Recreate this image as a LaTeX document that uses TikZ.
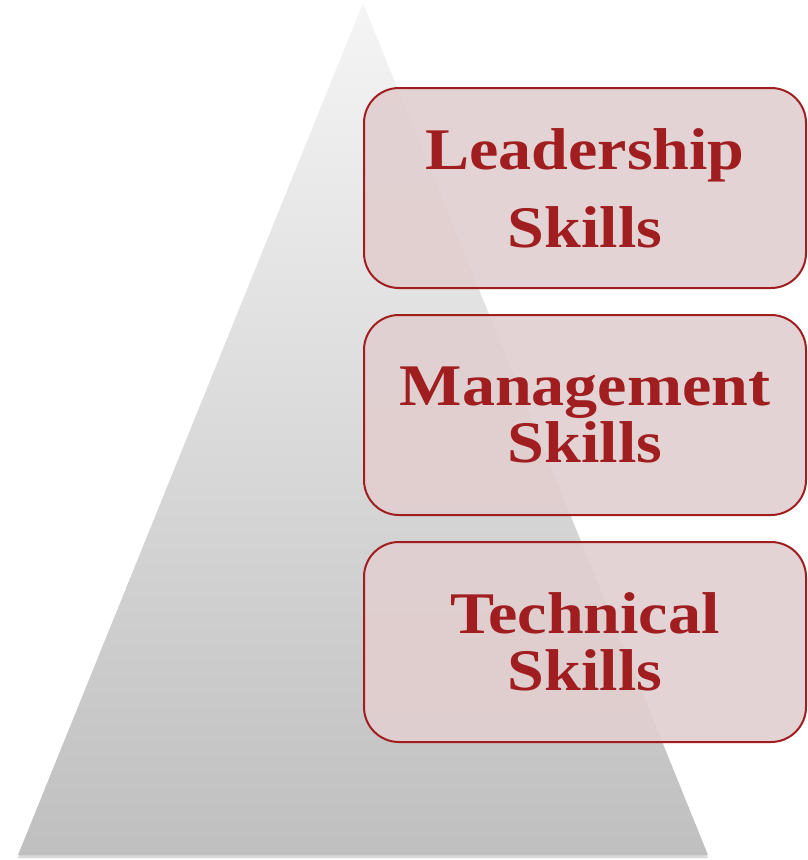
\documentclass[tikz,border=0pt]{standalone}
\usepackage{fontspec}
\setmainfont{Liberation Serif}
\usepackage{tikz}
\usetikzlibrary{shadows}

\definecolor{skillred}{RGB}{160,30,32}
\definecolor{skillfill}{RGB}{226,207,208}

\tikzset{
	skillbox/.style={rectangle, rounded corners=35pt, draw=skillred, line width=2pt,
		fill=skillfill, fill opacity=0.92, text opacity=1, text=skillred,
		minimum width=442pt, minimum height=200pt, align=center,
		font=\addfontfeature{FakeStretch=1.12}\bfseries\fontsize{59}{57}\selectfont},
	widegap/.style={font=\addfontfeature{FakeStretch=1.12}\bfseries\fontsize{59}{78}\selectfont},
}

\begin{document}
\begin{tikzpicture}[x=1pt, y=-1pt]
	\useasboundingbox (0,0) rectangle (807,860);
	% pyramid
	\coordinate (top) at (363,3);
	\coordinate (bl) at (18,855);
	\coordinate (br) at (708,855);
	\shade[top color=black!4, bottom color=black!25,
		drop shadow={shadow xshift=0pt, shadow yshift=-3pt, opacity=0.3}]
		(top) -- (br) -- (bl) -- cycle;
	% skill boxes
	\node (lead) at (585,188) [skillbox, widegap] {Leadership\\Skills};
		\node (mgmt) at (585,415) [skillbox] {Management\\Skills};
			\node (tech) at (585,642) [skillbox] {Technical\\Skills};
\end{tikzpicture}
\end{document}
